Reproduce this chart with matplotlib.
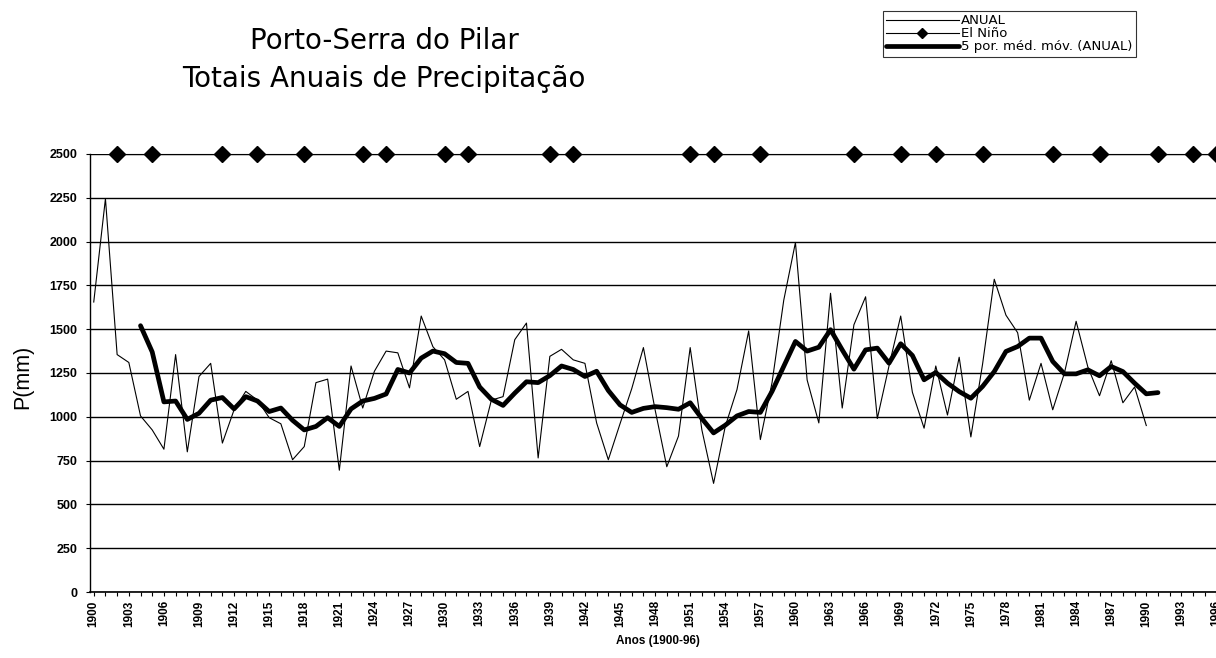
import matplotlib.pyplot as plt

# Anos e totais anuais de precipitação (mm)
anos = list(range(1900, 1991))
anual = [1655, 2245, 1355, 1310, 1005, 925, 815, 1355, 800, 1230,
         1305, 850, 1040, 1145, 1095, 995, 960, 755, 830, 1195,
         1215, 695, 1290, 1050, 1260, 1375, 1365, 1165, 1575, 1400,
         1325, 1100, 1145, 830, 1095, 1115, 1440, 1535, 765, 1345,
         1385, 1325, 1305, 965, 755, 960, 1160, 1395, 1040, 715,
         890, 1395, 925, 620, 945, 1155, 1490, 870, 1195, 1665,
         1995, 1210, 965, 1705, 1050, 1525, 1685, 990, 1290, 1575,
         1140, 935, 1290, 1010, 1340, 885, 1300, 1785, 1580, 1480,
         1095, 1305, 1040, 1250, 1545, 1285, 1120, 1320, 1080, 1170,
         950]

# Média móvel de 5 períodos (linha grossa)
anos_mm = list(range(1904, 1992))
media_movel = [1520, 1370, 1085, 1090, 985, 1020, 1095, 1110, 1045, 1115,
               1090, 1030, 1050, 980, 925, 945, 995, 945, 1045, 1090,
               1105, 1130, 1270, 1250, 1335, 1375, 1360, 1310, 1305, 1170,
               1100, 1065, 1135, 1200, 1195, 1235, 1290, 1270, 1230, 1260,
               1150, 1068, 1025, 1048, 1058, 1052, 1043, 1080, 990, 908,
               952, 1005, 1030, 1025, 1145, 1288, 1430, 1375, 1397, 1497,
               1382, 1272, 1382, 1392, 1306, 1417, 1350, 1211, 1253, 1192,
               1144, 1106, 1173, 1258, 1373, 1401, 1449, 1449, 1316, 1245,
               1245, 1268, 1234, 1287, 1258, 1192, 1131, 1138]

# Anos de El Niño (marcados em 2500)
anos_nino = [1902, 1905, 1911, 1914, 1918, 1923, 1925, 1930, 1932, 1939,
             1941, 1951, 1953, 1957, 1965, 1969, 1972, 1976, 1982, 1986,
             1991, 1994, 1996]
nino = [2500] * len(anos_nino)

fig = plt.figure(figsize=(12.16, 6.58), dpi=100)
fig.patch.set_facecolor('white')
ax = fig.add_axes([90 / 1216, 0.1003, 1144 / 1216, 0.6657])

ax.plot(anos, anual, color='black', linewidth=0.8, label='ANUAL', zorder=3)
ax.plot(anos_nino, nino, color='black', linewidth=0.8, marker='D',
        markersize=8.5, label='El Niño', zorder=4, clip_on=False)
ax.plot(anos_mm, media_movel, color='black', linewidth=3.4,
        solid_capstyle='round', label='5 por. méd. móv. (ANUAL)', zorder=3)

ax.set_xlim(1899.68, 1997.5)
ax.set_ylim(0, 2500)
ax.set_yticks(range(0, 2501, 250))
ax.yaxis.grid(True, color='black', linewidth=1.0)
ax.set_axisbelow(True)

ticks_x = list(range(1900, 1998))
ax.set_xticks(ticks_x)
ax.set_xticklabels([str(a) if (a - 1900) % 3 == 0 else '' for a in ticks_x],
                   rotation=90, fontsize=8.5, fontweight='bold',
                   family='Liberation Sans')
for lab in ax.get_yticklabels():
    lab.set_fontsize(9)
    lab.set_fontweight('bold')
    lab.set_family('Liberation Sans')
ax.tick_params(axis='x', direction='out', length=3, width=0.8, pad=3)
ax.tick_params(axis='y', direction='out', length=3, width=0.8, pad=6)

for lado in ['top', 'right']:
    ax.spines[lado].set_visible(False)
ax.spines['left'].set_linewidth(1.0)
ax.spines['bottom'].set_linewidth(1.2)

fig.text(23 / 1216, 1 - 377 / 658, 'P(mm)', rotation=90, ha='center',
         va='center', fontsize=15.5, family='Liberation Sans')
fig.text(658 / 1216, 1 - 641 / 658, 'Anos (1900-96)', ha='center',
         va='center', fontsize=8.5, fontweight='bold', family='Liberation Sans')

fig.text(384 / 1216, 1 - 41 / 658, 'Porto-Serra do Pilar', ha='center',
         va='center', fontsize=20, family='DejaVu Sans')
fig.text(384 / 1216, 1 - 79 / 658, 'Totais Anuais de Precipitação',
         ha='center', va='center', fontsize=20, family='DejaVu Sans')

leg = fig.legend(loc='upper right', bbox_to_anchor=(1136 / 1216, 1 - 11 / 658),
                 frameon=True, fancybox=False, handlelength=5.5,
                 labelspacing=0.0, borderpad=0.25, handletextpad=0.2,
                 borderaxespad=0, markerscale=0.6,
                 prop={'family': 'DejaVu Sans', 'size': 9.5})
leg.get_frame().set_edgecolor('black')
leg.get_frame().set_linewidth(0.8)

fig.savefig('out.png', dpi=100, facecolor='white')
